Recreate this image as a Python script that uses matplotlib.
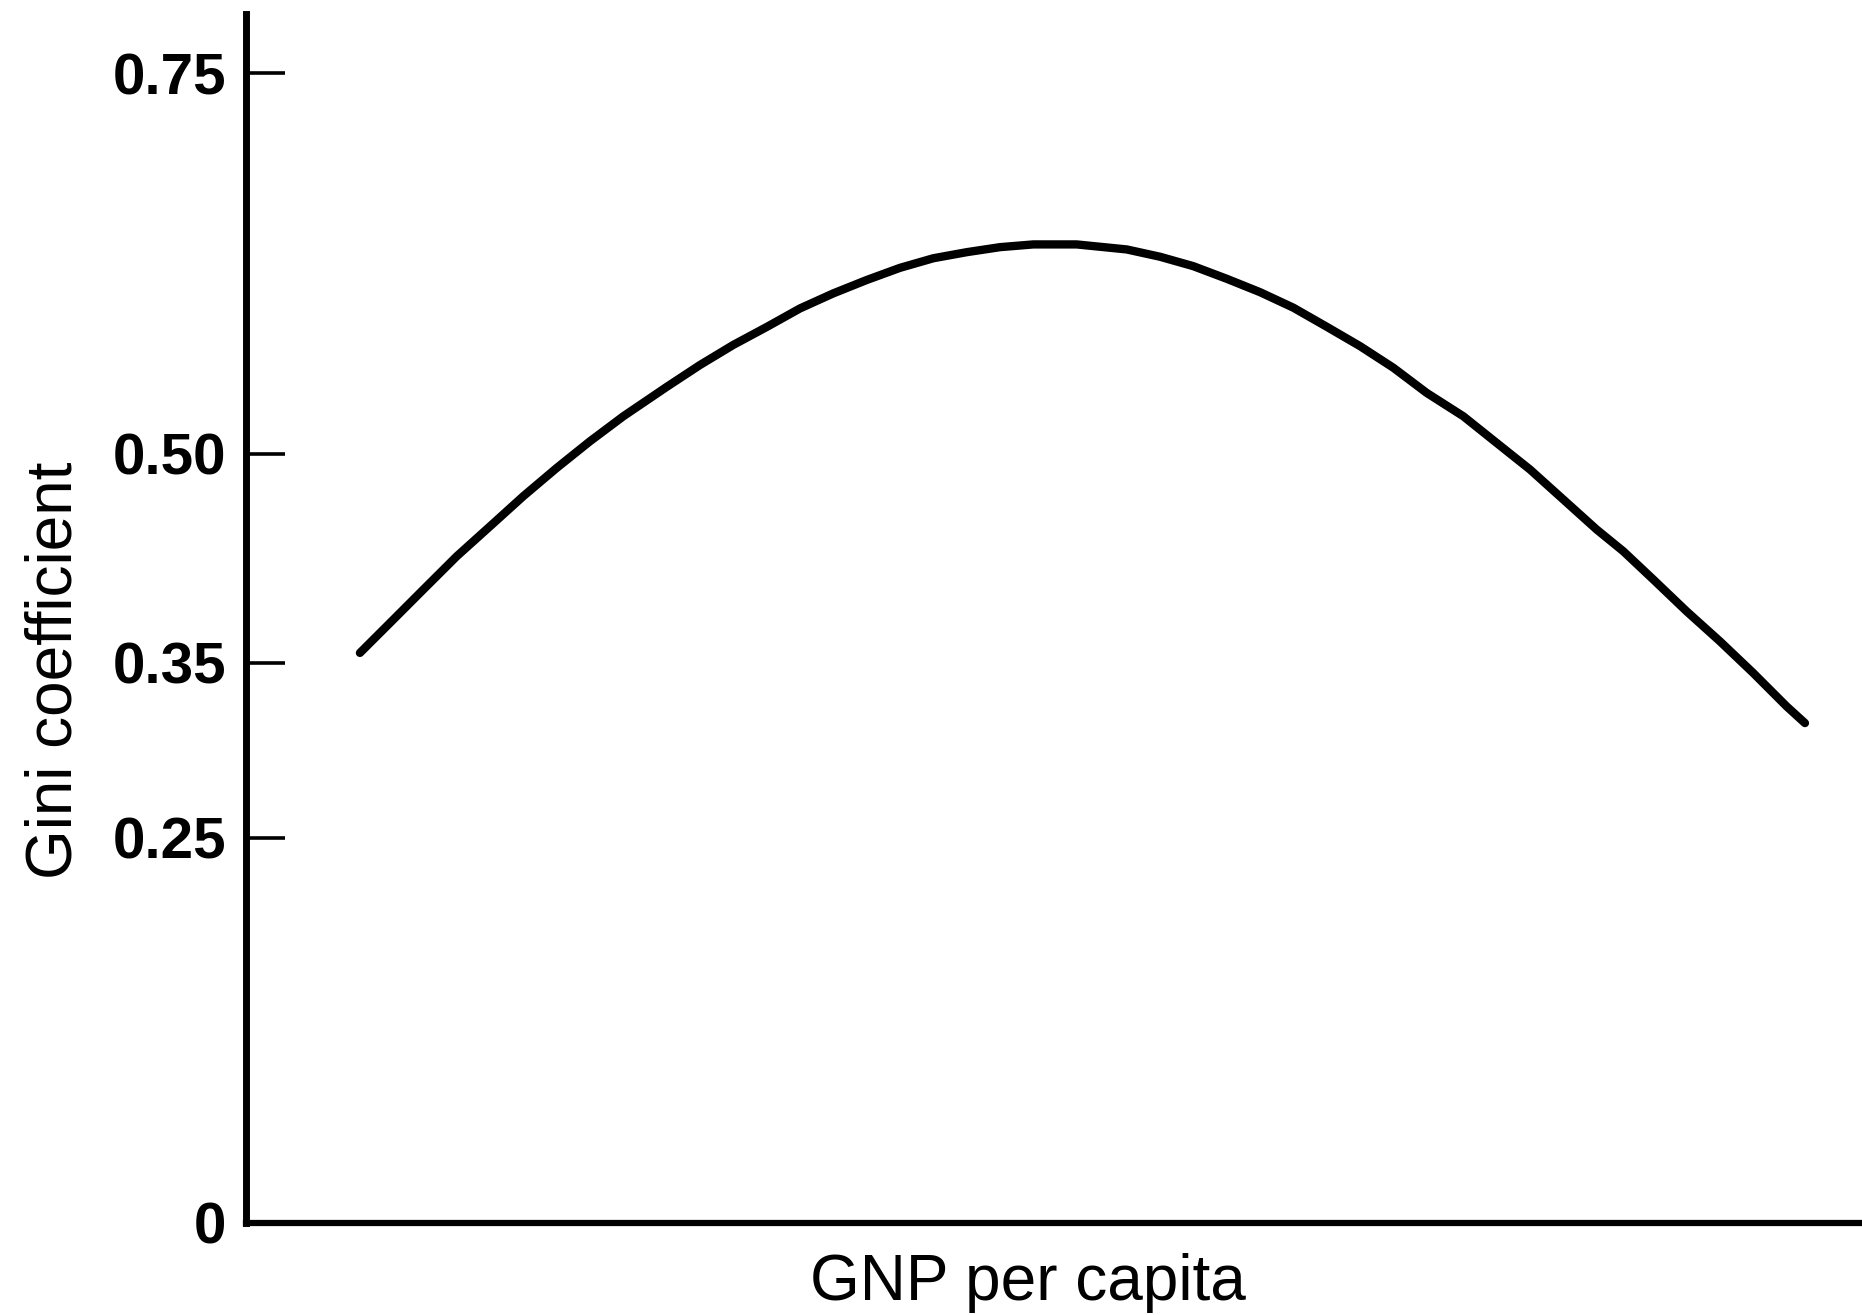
import numpy as np
import matplotlib
matplotlib.use("Agg")
import matplotlib.pyplot as plt

# Kuznets curve (schematic)
gnp = [7.05, 8.91, 10.97, 13.04, 15.10, 17.16, 19.23, 21.29, 23.35, 26.03,
       28.09, 30.15, 32.22, 34.28, 36.34, 38.41, 40.47, 42.53, 44.60, 46.66, 48.72,
       51.40, 52.43, 54.50, 56.56, 58.62, 60.69, 62.75, 64.81, 66.87, 68.94, 71.00,
       73.06, 75.33, 77.39, 79.46, 81.52, 83.58, 85.23, 87.09, 89.15, 91.21, 93.27,
       95.34, 96.47]
gini = [0.357, 0.3785, 0.4024, 0.4263, 0.4478, 0.4694, 0.4897, 0.5081, 0.5245, 0.5438,
        0.5582, 0.5714, 0.5832, 0.5954, 0.6053, 0.6141, 0.6221, 0.6284, 0.6324,
        0.6357, 0.6375, 0.6375, 0.6364, 0.6342, 0.6294, 0.6232, 0.6149, 0.6061, 0.5959,
        0.5834, 0.5706, 0.5564, 0.5399, 0.5245, 0.507, 0.4885, 0.467, 0.4455, 0.4299,
        0.4096, 0.3868, 0.3653, 0.3441, 0.325, 0.3155]

tick_vals = [0, 0.25, 0.35, 0.50, 0.75]
tick_labels = ["0", "0.25", "0.35", "0.50", "0.75"]

# the y axis of the original is not linear: piecewise map between ticks
scale_in = [-1.0, 0.0, 0.25, 0.35, 0.50, 0.75, 2.0]
scale_out = [-1540, 0, 385, 560, 769, 1149, 3049]


def forward(v):
    return np.interp(v, scale_in, scale_out)


def inverse(v):
    return np.interp(v, scale_out, scale_in)


plt.rcParams['font.family'] = ['Liberation Sans', 'DejaVu Sans']

fig = plt.figure(figsize=(18.62, 13.15), dpi=100)
ax = fig.add_axes([246 / 1862, 92 / 1315, 1 - 246 / 1862, 1209 / 1315])

ax.plot(gnp, gini, color='black', lw=6, solid_capstyle='round',
        solid_joinstyle='round')

ax.set_yscale('function', functions=(forward, inverse))
ax.set_ylim(0, 0.789)
ax.set_xlim(0, 100)

ax.set_yticks(tick_vals)
ax.set_yticklabels(tick_labels, fontsize=42, fontweight='bold')
ax.tick_params(axis='y', direction='in', length=28, width=2.6, pad=14)
ax.set_xticks([])
ax.minorticks_off()

for s in ['top', 'right']:
    ax.spines[s].set_visible(False)
ax.spines['left'].set_linewidth(5)
ax.spines['bottom'].set_linewidth(4.5)

ax.set_ylabel('Gini coefficient', fontsize=46)
ax.yaxis.set_label_coords(-0.100, 0.457)
ax.set_xlabel('GNP per capita', fontsize=46)
ax.xaxis.set_label_coords(0.484, -0.025)

fig.savefig('out.png', dpi=100)
